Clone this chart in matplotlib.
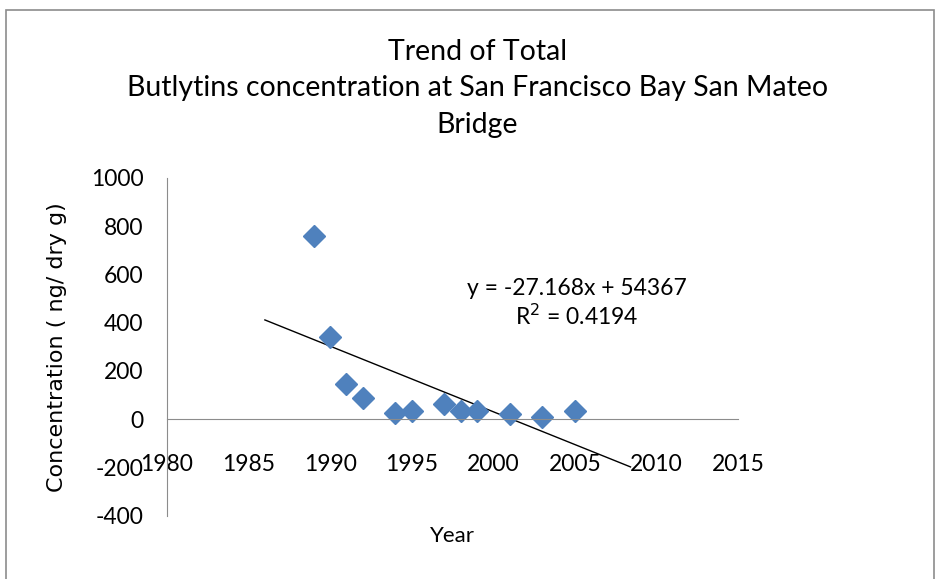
import numpy as np
import matplotlib.pyplot as plt
from matplotlib.patches import Rectangle

plt.rcParams['font.family'] = ['Lato', 'DejaVu Sans']
plt.rcParams['axes.unicode_minus'] = False

# data
years = [1989, 1990, 1991, 1992, 1994, 1995, 1997, 1998, 1999, 2001, 2003, 2005]
conc = [760, 340, 148, 90, 27, 35, 63, 35, 35, 20, 10, 35]
# trendline from the label
slope = -27.168
intercept = 54367
trend_x = [1986, 2008.4]
x_ticks = [1980, 1985, 1990, 1995, 2000, 2005, 2010, 2015]
y_ticks = [-400, -200, 0, 200, 400, 600, 800, 1000]

fig = plt.figure(figsize=(9.38, 5.79), dpi=100)
fig.patches.append(Rectangle((0.006, -0.01), 0.99, 0.993, transform=fig.transFigure,
                             fill=False, edgecolor='#8c8c8c', linewidth=1.2))
ax = fig.add_axes([0.178, 0.109, 0.609, 0.584])

tx = np.array(trend_x)
ax.plot(tx, slope * tx + intercept, color='black', linewidth=1)
ax.plot(years, conc, linestyle='none', marker='D', markersize=11,
        color='#4f81bd', markeredgecolor='#4f81bd')

ax.set_xlim(1980, 2015)
ax.set_ylim(-400, 1000)
ax.set_xticks(x_ticks)
ax.set_yticks(y_ticks)
ax.spines['top'].set_visible(False)
ax.spines['right'].set_visible(False)
ax.spines['bottom'].set_position(('data', 0))
for s in ['left', 'bottom']:
    ax.spines[s].set_color('#8c8c8c')
ax.tick_params(axis='both', length=0, labelsize=16.5)
ax.tick_params(axis='x', pad=25)
ax.tick_params(axis='y', pad=17)

ax.text(2005.1, 540, 'y = -27.168x + 54367', ha='center', va='center', fontsize=16.5)
ax.text(2005.1, 425, 'R$^2$ = 0.4194', ha='center', va='center', fontsize=16.5)

fig.text(0.509, 0.848, 'Trend of Total\nButlytins concentration at San Francisco Bay San Mateo\nBridge',
         ha='center', va='center', fontsize=20.5, linespacing=1.5)
ax.set_ylabel('Concentration ( ng/ dry g)', fontsize=16, labelpad=17,
              family=['DejaVu Sans'])
fig.text(0.482, 0.075, 'Year', ha='center', va='center', fontsize=16)

fig.savefig('out.png', dpi=100)
